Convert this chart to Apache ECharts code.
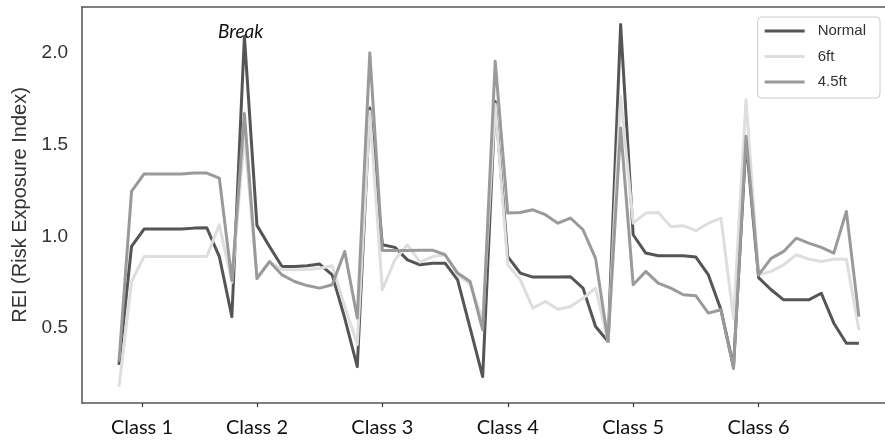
<!DOCTYPE html>
<html>
<head>
<meta charset="utf-8">
<script src="https://cdn.jsdelivr.net/npm/echarts@6/dist/echarts.min.js"></script>
<style>html,body{margin:0;padding:0;background:#fff}#c{width:885px;height:442px}</style>
</head>
<body>
<div id="c"></div>
<script>
var classLabels = ['Class 1','Class 2','Class 3','Class 4','Class 5','Class 6'];
var classTicks = [1.83, 11, 21, 31, 41, 51];
var yTicks = [0.5, 1.0, 1.5, 2.0];
var seriesNames = ['Normal','6ft','4.5ft'];

var normal = [0.30,0.945,1.04,1.04,1.04,1.04,1.045,1.047,0.89,0.563,
 2.09,1.06,0.945,0.836,0.836,0.84,0.849,0.79,0.555,0.29,
 1.70,0.954,0.94,0.872,0.845,0.854,0.854,0.763,0.50,0.236,
 1.735,0.89,0.80,0.778,0.778,0.778,0.78,0.718,0.509,0.427,
 2.154,1.009,0.909,0.894,0.894,0.894,0.887,0.79,0.60,0.29,
 1.52,0.775,0.709,0.654,0.654,0.654,0.69,0.527,0.418,0.418];

var ft6 = [0.18,0.754,0.89,0.89,0.89,0.89,0.89,0.89,1.063,0.75,
 1.55,0.78,0.86,0.82,0.818,0.82,0.826,0.84,0.62,0.41,
 1.68,0.709,0.872,0.954,0.86,0.89,0.90,0.79,0.74,0.545,
 1.72,0.845,0.763,0.609,0.645,0.603,0.618,0.663,0.718,0.427,
 1.763,1.072,1.127,1.13,1.054,1.058,1.031,1.072,1.10,0.554,
 1.745,0.79,0.809,0.845,0.90,0.876,0.863,0.876,0.876,0.49];

var ft45 = [0.318,1.245,1.34,1.34,1.34,1.34,1.345,1.345,1.318,0.76,
 1.67,0.77,0.863,0.79,0.754,0.732,0.718,0.736,0.918,0.555,
 2.0,0.923,0.923,0.923,0.925,0.925,0.90,0.80,0.754,0.49,
 1.954,1.127,1.13,1.145,1.118,1.072,1.10,1.036,0.88,0.427,
 1.59,0.736,0.809,0.745,0.718,0.682,0.676,0.582,0.60,0.28,
 1.545,0.79,0.88,0.918,0.99,0.963,0.94,0.909,1.136,0.563];

function pairs(arr){ return arr.map(function(v,i){ return [i, v]; }); }

var colors = ['#555555','#dedede','#9a9a9a'];
var chart = echarts.init(document.getElementById('c'), null, {renderer:'canvas'});
var mk = function(name, data, color){
  return {
    name: name, type: 'line', data: pairs(data), symbol: 'none', smooth: false,
    lineStyle: {color: color, width: 3, join: 'round'}, itemStyle: {color: color},
    emphasis: {disabled: true}
  };
};
chart.setOption({
  animation: false,
  backgroundColor: '#ffffff',
  grid: {left: 82, right: 0, top: 7, bottom: 39, containLabel: false},
  xAxis: [{
    type: 'value', min: -2.95, max: 61.08,
    splitLine: {show: false},
    axisLine: {show: true, onZero: false, lineStyle: {color: '#555', width: 1.5}},
    axisTick: {show: true, inside: false, length: 4, customValues: classTicks, lineStyle: {color: '#333', width: 1.2}},
    axisLabel: {
      customValues: classTicks, margin: 15,
      fontFamily: 'Lato', fontSize: 20, color: '#111',
      formatter: function(v){ var i = classTicks.indexOf(v); return i >= 0 ? classLabels[i] : ''; }
    }
  }, {
    type: 'value', position: 'top', min: -2.95, max: 61.08,
    splitLine: {show: false},
    axisLine: {show: true, onZero: false, lineStyle: {color: '#555', width: 1.5}},
    axisTick: {show: false}, axisLabel: {show: false}
  }],
  yAxis: {
    type: 'value', min: 0.092, max: 2.25,
    name: 'REI (Risk Exposure Index)', nameLocation: 'middle', nameGap: 50,
    nameTextStyle: {fontFamily: 'Liberation Sans', fontSize: 20, color: '#333'},
    splitLine: {show: false},
    axisLine: {show: true, onZero: false, lineStyle: {color: '#555', width: 1.5}},
    axisTick: {show: false},
    axisLabel: {
      customValues: yTicks, margin: 14,
      fontFamily: 'Liberation Sans', fontSize: 19, color: '#333',
      formatter: function(v){ return v.toFixed(1); }
    }
  },
  legend: {
    orient: 'vertical', right: 5, top: 17,
    data: seriesNames,
    icon: 'rect', itemWidth: 40, itemHeight: 3, itemGap: 9.5,
    padding: [6, 14, 8, 7],
    backgroundColor: '#fff', borderColor: '#cccccc', borderWidth: 1, borderRadius: 4,
    textStyle: {fontFamily: 'Liberation Sans', fontSize: 15, color: '#333', lineHeight: 16, padding: [0,0,0,8]}
  },
  graphic: [{
    type: 'text', left: 218, top: 22,
    style: {text: 'Break', fontFamily: 'Lato', fontStyle: 'italic', fontSize: 19, fill: '#111'}
  }],
  series: [mk(seriesNames[0], normal, colors[0]), mk(seriesNames[1], ft6, colors[1]), mk(seriesNames[2], ft45, colors[2])]
});
</script>
</body>
</html>
